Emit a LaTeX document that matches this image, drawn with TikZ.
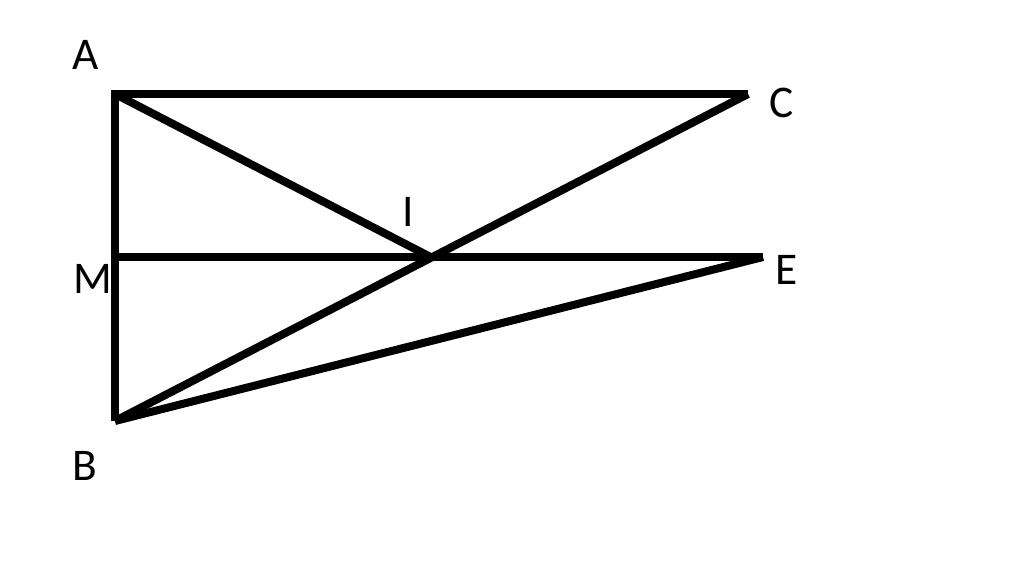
\documentclass[tikz,border=0pt]{standalone}
\usepackage{fontspec}
\setmainfont{Carlito}
\usetikzlibrary{calc}
\begin{document}
\begin{tikzpicture}[x=0.75pt,y=-0.75pt,line width=6pt,
        lbl/.style={inner sep=0pt,font=\fontsize{34}{40}\selectfont}]
        \useasboundingbox (0,0) rectangle (1024,574);

        \coordinate (A) at (115,94);
        \coordinate (C) at (748,94);
        \coordinate (B) at (115,421);
        \coordinate (M) at (115,257);
        \coordinate (E) at (763,257);
        \coordinate (I) at ($(B)!0.5!(C)$);

        \draw[color=black] (C) -- (A) -- (B);
        \draw[color=black] (A) -- (I);
        \draw[color=black] (B) -- (C);
        \draw[color=black] (M) -- (E);
        \draw[color=black] (B) -- (E);

        \foreach \name/\pos in {A/{(86,55)},C/{(782,103)},I/{(408,212)},M/{(93,279)},E/{(787,270)},B/{(85,466)}}{
            \node[lbl] (l\name) at \pos {\name};
        }
    \end{tikzpicture}
\end{document}
